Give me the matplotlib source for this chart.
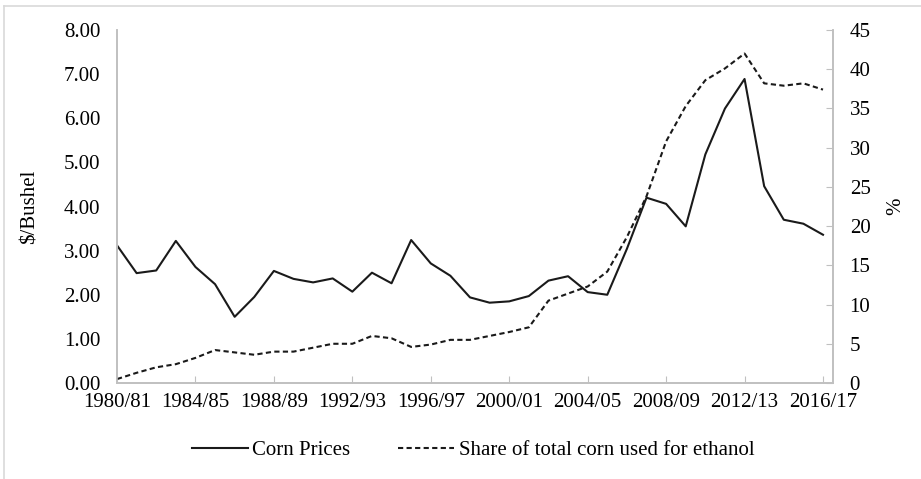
import matplotlib
matplotlib.use("Agg")
import matplotlib.pyplot as plt
from matplotlib.lines import Line2D

years = [f"{y}/{str(y + 1)[-2:]}" for y in range(1980, 2017)]
corn_prices = [3.12, 2.49, 2.55, 3.22, 2.63, 2.24, 1.50, 1.95, 2.54, 2.36,
               2.28, 2.37, 2.07, 2.50, 2.26, 3.24, 2.71, 2.43, 1.94, 1.82,
               1.85, 1.97, 2.32, 2.42, 2.06, 2.00, 3.04, 4.20, 4.06, 3.55,
               5.18, 6.22, 6.89, 4.46, 3.70, 3.61, 3.36]
ethanol_share = [0.5, 1.3, 2.0, 2.4, 3.2, 4.2, 3.9, 3.6, 4.0, 4.0,
                 4.5, 5.0, 5.0, 6.0, 5.7, 4.6, 4.9, 5.5, 5.5, 6.0,
                 6.5, 7.1, 10.5, 11.4, 12.3, 14.2, 18.6, 23.8, 30.8, 35.3,
                 38.6, 40.1, 42.0, 38.2, 37.9, 38.2, 37.4]
tick_labels = years[::4]

plt.rcParams['font.family'] = ['Liberation Serif', 'DejaVu Serif']
fs = 15
grey = '#c0c0c0'

fig = plt.figure(figsize=(9.21, 4.79), dpi=100)
ax = fig.add_axes([117/921, 1 - 383/479, (833 - 117)/921, (383 - 30)/479])
ax2 = ax.twinx()

x = list(range(len(years)))
ax.plot(x, corn_prices, color='#1a1a1a', lw=1.5, label='Corn Prices')
ax2.plot(x, ethanol_share, color='#1a1a1a', lw=1.5, dashes=(2.5, 1.6),
         label='Share of total corn used for ethanol')

ax.set_xlim(0, (len(years) - 1) * 716 / 706)
ax.set_ylim(0, 8)
ax2.set_ylim(0, 45)
ax.set_yticks([i for i in range(9)])
ax.set_yticklabels([f"{i:.2f}" for i in range(9)], fontsize=fs)
ax2.set_yticks(list(range(0, 46, 5)))
ax2.set_yticklabels([str(v) for v in range(0, 46, 5)], fontsize=fs)
ax.set_xticks(x[::4])
ax.set_xticklabels(tick_labels, fontsize=fs)

for a in (ax, ax2):
    for s in a.spines.values():
        s.set_color(grey)
        s.set_linewidth(1.2)
    a.spines['top'].set_visible(False)
ax.tick_params(axis='y', length=0, pad=12)
ax.tick_params(axis='x', direction='in', length=5, color=grey, pad=7)
ax2.tick_params(axis='y', direction='in', length=5, color=grey, pad=12)

ax.set_ylabel('$/Bushel', fontsize=fs)
ax.yaxis.set_label_coords((40 - 117) / 716, 0.5)
ax2.set_ylabel('%', fontsize=fs)
ax2.yaxis.set_label_coords((886 - 117) / 716, 0.5)

handles = [Line2D([], [], color='#1a1a1a', lw=1.5),
           Line2D([], [], color='#1a1a1a', lw=1.5, dashes=(2.5, 1.6))]
fig.legend(handles, ['Corn Prices', 'Share of total corn used for ethanol'],
           loc='center', bbox_to_anchor=(473/921, 1 - 450/479), ncol=2,
           frameon=False, fontsize=fs, handlelength=2.7, handletextpad=0.2,
           columnspacing=2.3)

# outer chart border (top and left visible)
fig.add_artist(Line2D([4/921, 4/921], [0, 1 - 6/479], transform=fig.transFigure,
                      color='#d9d9d9', lw=1.2))
fig.add_artist(Line2D([4/921, 1], [1 - 6/479, 1 - 6/479], transform=fig.transFigure,
                      color='#d9d9d9', lw=1.2))

fig.savefig('out.png', dpi=100)
